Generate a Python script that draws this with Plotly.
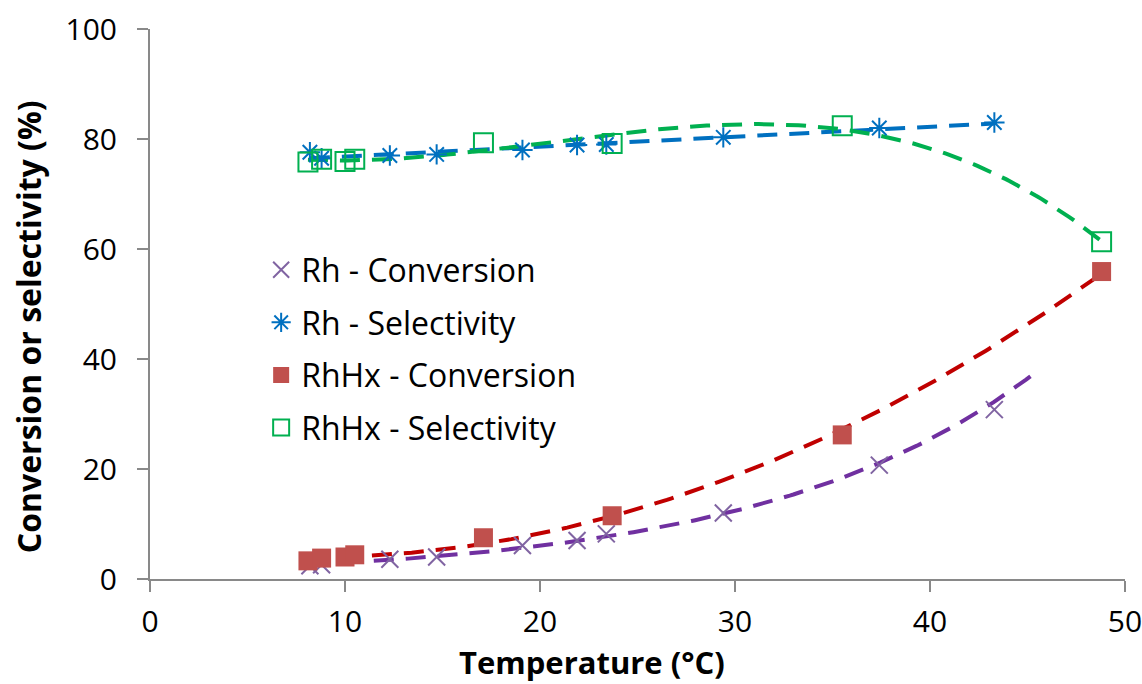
import numpy as np
import plotly.graph_objects as go

# Measured data
rh_temp = [8.2, 8.8, 12.3, 14.7, 19.1, 21.9, 23.4, 29.4, 37.4, 43.3]
rh_conversion = [2.4, 2.6, 3.6, 4.0, 6.1, 7.0, 8.2, 12.0, 20.7, 30.8]
rh_selectivity = [77.6, 76.5, 77.0, 77.2, 78.0, 78.9, 79.0, 80.3, 82.0, 83.0]

rhhx_temp = [8.1, 8.8, 10.0, 10.5, 17.1, 23.7, 35.5, 48.8]
rhhx_conversion = [3.3, 3.8, 4.0, 4.4, 7.5, 11.5, 26.2, 55.9]
rhhx_selectivity = [75.8, 76.3, 75.9, 76.3, 79.3, 79.2, 82.4, 61.3]

x_ticks = [0, 10, 20, 30, 40, 50]
y_ticks = [0, 20, 40, 60, 80, 100]

# Trendline settings (forecast forward for Rh conversion)
RH_CONV_FORWARD = 2.0

PURPLE_MK = "#8064A2"
PURPLE_LN = "#7030A0"
BLUE = "#0070C0"
RED_MK = "#C0504D"
RED_LN = "#C00000"
GREEN = "#00B050"
AXIS = "#898989"

DASH = "20px,12px"


def exp_trend(x, y, x0, x1):
    b, a = np.polyfit(np.asarray(x), np.log(np.asarray(y)), 1)
    xs = np.linspace(x0, x1, 200)
    return xs, np.exp(a) * np.exp(b * xs)


def poly_trend(x, y, deg, x0, x1):
    c = np.polyfit(np.asarray(x), np.asarray(y), deg)
    xs = np.linspace(x0, x1, 200)
    return xs, np.polyval(c, xs)


fig = go.Figure()

# Trendlines
tx, ty = exp_trend(rh_temp, rh_conversion, min(rh_temp), max(rh_temp) + RH_CONV_FORWARD)
fig.add_trace(go.Scatter(x=tx, y=ty, mode="lines", showlegend=False, hoverinfo="skip",
                         line=dict(color=PURPLE_LN, width=4, dash=DASH)))
tx, ty = poly_trend(rh_temp, rh_selectivity, 1, min(rh_temp), max(rh_temp))
fig.add_trace(go.Scatter(x=tx, y=ty, mode="lines", showlegend=False, hoverinfo="skip",
                         line=dict(color=BLUE, width=4, dash=DASH)))
tx, ty = poly_trend(rhhx_temp, rhhx_conversion, 2, min(rhhx_temp), max(rhhx_temp))
fig.add_trace(go.Scatter(x=tx, y=ty, mode="lines", showlegend=False, hoverinfo="skip",
                         line=dict(color=RED_LN, width=4, dash=DASH)))
tx, ty = poly_trend(rhhx_temp, rhhx_selectivity, 3, min(rhhx_temp), max(rhhx_temp))
fig.add_trace(go.Scatter(x=tx, y=ty, mode="lines", showlegend=False, hoverinfo="skip",
                         line=dict(color=GREEN, width=4, dash=DASH)))

# Measured points
fig.add_trace(go.Scatter(x=rh_temp, y=rh_conversion, mode="markers", name="Rh - Conversion",
                         legendgroup="a",
                         marker=dict(symbol="x-thin-open", size=17, color=PURPLE_MK,
                                     line=dict(color=PURPLE_MK, width=2))))
fig.add_trace(go.Scatter(x=rh_temp, y=rh_selectivity, mode="markers", name="Rh - Selectivity",
                         legendgroup="b",
                         marker=dict(symbol="asterisk-open", size=17, color=BLUE,
                                     line=dict(color=BLUE, width=2))))
fig.add_trace(go.Scatter(x=rhhx_temp, y=rhhx_conversion, mode="markers", name="RhHx - Conversion",
                         legendgroup="c",
                         marker=dict(symbol="square", size=19, color=RED_MK,
                                     line=dict(width=0))))
fig.add_trace(go.Scatter(x=rhhx_temp, y=rhhx_selectivity, mode="markers", name="RhHx - Selectivity",
                         legendgroup="d",
                         marker=dict(symbol="square-open", size=19, color=GREEN,
                                     line=dict(color=GREEN, width=2))))

axis_common = dict(showgrid=False, zeroline=False, showline=True, linecolor=AXIS, linewidth=2,
                   ticks="outside", ticklen=11, tickwidth=2, tickcolor=AXIS,
                   tickfont=dict(family="Open Sans", size=30), automargin=False)

fig.update_layout(
    width=1142, height=684,
    margin=dict(l=150, r=17, t=29, b=105),
    paper_bgcolor="white", plot_bgcolor="white",
    font=dict(family="Open Sans", size=30, color="black"),
    showlegend=True,
    legend=dict(x=0.114, y=0.612, xanchor="left", yanchor="top",
                font=dict(family="Open Sans", size=32, color="black"),
                bgcolor="rgba(0,0,0,0)", tracegroupgap=8),
    xaxis=dict(range=[0, 50], tickvals=x_ticks, ticktext=[str(v) for v in x_ticks],
               ticklabeloverflow="allow", ticklabelstandoff=4, **axis_common),
    yaxis=dict(range=[0, 100], tickvals=y_ticks, ticktext=[str(v) for v in y_ticks],
               ticklabelstandoff=14, **axis_common),
    annotations=[
        dict(text="<b>Temperature (°C)</b>", xref="paper", yref="paper",
             x=0.453, y=-0.151, xanchor="center", yanchor="middle", showarrow=False,
             font=dict(family="Open Sans", size=31, color="black")),
        dict(text="<b>Conversion or selectivity (%)</b>", xref="paper", yref="paper",
             x=-0.125, y=0.458, xanchor="center", yanchor="middle", showarrow=False,
             textangle=-90, font=dict(family="Open Sans", size=32, color="black")),
    ],
)

fig.write_html("out.html")
